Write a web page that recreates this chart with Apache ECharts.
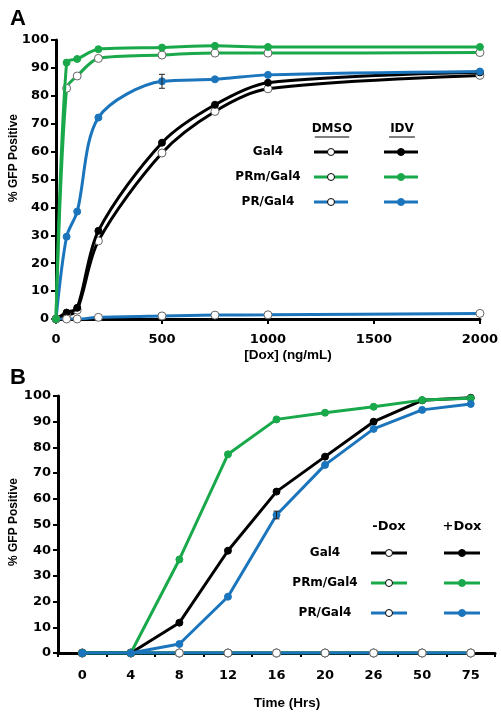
<!DOCTYPE html>
<html>
<head>
<meta charset="utf-8">
<script src="https://cdn.jsdelivr.net/npm/echarts@6/dist/echarts.min.js"></script>
<style>
html,body{margin:0;padding:0;background:#fff;}
#c{width:501px;height:716px;}
</style>
</head>
<body>
<div id="c"></div>
<script>
// ---- Panel A data ----
const doseA = [0, 50, 100, 200, 500, 750, 1000, 2000];
const gal4DMSO_A = [0, 1.2, 3.2, 28, 59.5, 74.4, 82.5, 87.3];
const gal4IDV_A  = [0, 2.3, 4, 31.6, 63.2, 76.8, 84.7, 88.4];
const prmDMSO_A  = [0, 82.7, 87.1, 93.4, 94.6, 95.3, 95.3, 95.5];
const prmIDV_A   = [0, 91.9, 93.2, 96.7, 97.3, 97.9, 97.5, 97.5];
const prDMSO_A   = [0, 0, 0, 0.6, 1.1, 1.4, 1.5, 2.0];
const prIDV_A    = [0, 29.5, 38.5, 72.2, 85.2, 85.9, 87.5, 88.7];
const prIDV_A_err = [0, 0, 0, 0, 2.5, 0, 0, 0];

// ---- Panel B data ----
const timeB = ['0', '4', '8', '12', '16', '20', '26', '50', '75'];
const gal4Minus_B = [0, 0, 0, 0, 0, 0, 0, 0, 0];
const prmMinus_B  = [0, 0, 0, 0, 0, 0, 0, 0, 0];
const prMinus_B   = [0, 0, 0, 0, 0, 0, 0, 0, 0];
const gal4Plus_B  = [0, 0, 11.8, 39.8, 62.8, 76.4, 90, 98.3, 99.3];
const prmPlus_B   = [0, 0, 36.4, 77.3, 90.9, 93.5, 95.8, 98.4, 99.1];
const prPlus_B    = [0, 0, 3.5, 21.9, 53.7, 73.2, 87.2, 94.6, 96.9];
const prPlus_B_err = [0, 0, 0, 0, 1.5, 0, 0, 0, 0];

const BLACK = '#000000', GREEN = '#19a94b', BLUE = '#1b75bc';
const FONT = '"Liberation Sans", Arial, sans-serif';
const WFONT = '"DejaVu Sans", sans-serif';

const chart = echarts.init(document.getElementById('c'), null, {renderer: 'canvas'});

function pairs(xs, ys) { return xs.map((x, i) => [x, ys[i]]); }

function lineSeries(name, data, color, open, xi, smooth, z) {
  return {
    name: name, type: 'line', xAxisIndex: xi, yAxisIndex: xi,
    data: data, smooth: smooth, symbol: 'circle',
    symbolSize: open ? 8 : 7,
    lineStyle: {color: color, width: 3},
    itemStyle: open ? {color: '#ffffff', borderColor: '#666', borderWidth: 1} : {color: color, borderColor: color, borderWidth: 1},
    z: z, animation: false, silent: true
  };
}

function errSeries(xs, ys, errs, xi) {
  const d = [];
  xs.forEach((x, i) => { if (errs[i] > 0) d.push([x, ys[i] - errs[i], ys[i] + errs[i]]); });
  return {
    type: 'custom', xAxisIndex: xi, yAxisIndex: xi, data: d, z: 10, animation: false, silent: true,
    renderItem: function (params, api) {
      const lo = api.coord([api.value(0), api.value(1)]);
      const hi = api.coord([api.value(0), api.value(2)]);
      const w = 3;
      const st = {stroke: '#222', lineWidth: 1};
      return {type: 'group', children: [
        {type: 'line', shape: {x1: lo[0], y1: lo[1], x2: hi[0], y2: hi[1]}, style: st},
        {type: 'line', shape: {x1: lo[0]-w, y1: lo[1], x2: lo[0]+w, y2: lo[1]}, style: st},
        {type: 'line', shape: {x1: hi[0]-w, y1: hi[1], x2: hi[0]+w, y2: hi[1]}, style: st}
      ]};
    }
  };
}

const axisLbl = {color: '#000', fontFamily: WFONT, fontWeight: 'bold', fontSize: 13};
const axisLine = {show: true, onZero: false, lineStyle: {color: '#000', width: 3}};
const axisTick = {show: true, length: 5, lineStyle: {color: '#000', width: 2}};

function legendBlock(headers, hx, hy, hsize, underline, rows, lx, ly0, dy, col1, col2, half) {
  const g = [];
  headers.forEach((h, i) => {
    g.push({type: 'text', x: hx[i], y: hy, style: {text: h, fill: '#000', font: 'bold ' + hsize + 'px ' + WFONT, textAlign: 'center', textVerticalAlign: 'middle'}});
    if (underline) {
      const w = h.length * 8.6;
      g.push({type: 'line', shape: {x1: hx[i] - w/2, y1: hy + 8, x2: hx[i] + w/2, y2: hy + 8}, style: {stroke: '#000', lineWidth: 1}});
    }
  });
  rows.forEach((r, i) => {
    const y = ly0 + i * dy;
    g.push({type: 'text', x: lx, y: y, style: {text: r.label, fill: '#000', font: 'bold 12px ' + WFONT, textAlign: 'center', textVerticalAlign: 'middle'}});
    [[col1, true], [col2, false]].forEach(([cx, open]) => {
      g.push({type: 'line', shape: {x1: cx - half, y1: y, x2: cx + half, y2: y}, style: {stroke: r.color, lineWidth: 3}});
      g.push({type: 'circle', shape: {cx: cx, cy: y, r: 3.5}, style: open ? {fill: '#fff', stroke: '#000', lineWidth: 1} : {fill: r.color, stroke: r.color, lineWidth: 1}});
    });
  });
  return g;
}

const rowsDef = [
  {label: 'Gal4', color: BLACK},
  {label: 'PRm/Gal4', color: GREEN},
  {label: 'PR/Gal4', color: BLUE}
];

const nameFont = 'bold 13.5px ' + FONT;
const yNameFont = 'bold 12px ' + FONT;
const graphics = [
  {type: 'text', x: 10, y: 8, style: {text: 'A', fill: '#000', font: 'bold 22px ' + FONT}},
  {type: 'text', x: 10, y: 367, style: {text: 'B', fill: '#000', font: 'bold 22px ' + FONT}},
  {type: 'text', x: 288, y: 355, style: {text: '[Dox] (ng/mL)', fill: '#000', font: nameFont, textAlign: 'center', textVerticalAlign: 'middle'}},
  {type: 'text', x: 287, y: 703, style: {text: 'Time (Hrs)', fill: '#000', font: nameFont, textAlign: 'center', textVerticalAlign: 'middle'}},
  {type: 'text', x: 14, y: 158, rotation: Math.PI / 2, style: {text: '% GFP Positive', fill: '#000', font: yNameFont, textAlign: 'center', textVerticalAlign: 'middle'}},
  {type: 'text', x: 14, y: 522, rotation: Math.PI / 2, style: {text: '% GFP Positive', fill: '#000', font: yNameFont, textAlign: 'center', textVerticalAlign: 'middle'}}
].concat(
  legendBlock(['DMSO', 'IDV'], [332, 402], 129, 12, true, rowsDef, 268, 152, 25, 331, 401, 17),
  legendBlock(['-Dox', '+Dox'], [389, 462], 527, 13, false, rowsDef, 325, 553, 30, 389, 462, 18)
);

const option = {
  backgroundColor: '#fff',
  animation: false,
  grid: [
    {left: 56, top: 40, width: 425, height: 279},
    {left: 58, top: 396, width: 437, height: 257}
  ],
  xAxis: [
    {type: 'value', gridIndex: 0, min: 0, max: 2000, interval: 500,
     axisLine: axisLine, axisTick: axisTick,
     axisLabel: Object.assign({margin: 14, formatter: v => String(v)}, axisLbl), splitLine: {show: false}},
    {type: 'category', gridIndex: 1, data: timeB, boundaryGap: true,
     axisLine: axisLine, axisTick: {show: true, length: 4, alignWithLabel: false, lineStyle: {color: '#000', width: 2}},
     axisLabel: Object.assign({margin: 16, interval: 0}, axisLbl), splitLine: {show: false}}
  ],
  yAxis: [
    {type: 'value', gridIndex: 0, min: 0, max: 100, interval: 10,
     axisLine: axisLine, axisTick: axisTick, axisLabel: Object.assign({margin: 7}, axisLbl), splitLine: {show: false}},
    {type: 'value', gridIndex: 1, min: 0, max: 100, interval: 10,
     axisLine: axisLine, axisTick: axisTick, axisLabel: Object.assign({margin: 7}, axisLbl), splitLine: {show: false}}
  ],
  series: [
    lineSeries('Gal4 DMSO', pairs(doseA, gal4DMSO_A), BLACK, true, 0, 0.3, 3),
    lineSeries('Gal4 IDV', pairs(doseA, gal4IDV_A), BLACK, false, 0, 0.3, 4),
    lineSeries('PRm DMSO', pairs(doseA, prmDMSO_A), GREEN, true, 0, 0.3, 3),
    lineSeries('PR DMSO', pairs(doseA, prDMSO_A), BLUE, true, 0, 0.3, 5),
    lineSeries('PR IDV', pairs(doseA, prIDV_A), BLUE, false, 0, 0.3, 4),
    lineSeries('PRm IDV', pairs(doseA, prmIDV_A), GREEN, false, 0, 0.3, 6),
    errSeries(doseA, prIDV_A, prIDV_A_err, 0),

    lineSeries('Gal4 -Dox', gal4Minus_B, BLACK, true, 1, false, 3),
    lineSeries('PRm -Dox', prmMinus_B, GREEN, true, 1, false, 3),
    lineSeries('PR -Dox', prMinus_B, BLUE, true, 1, false, 3),
    lineSeries('Gal4 +Dox', gal4Plus_B, BLACK, false, 1, false, 4),
    lineSeries('PRm +Dox', prmPlus_B, GREEN, false, 1, false, 4),
    lineSeries('PR +Dox', prPlus_B, BLUE, false, 1, false, 5),
    errSeries(timeB, prPlus_B, prPlus_B_err, 1)
  ],
  graphic: graphics
};

chart.setOption(option);
</script>
</body>
</html>
